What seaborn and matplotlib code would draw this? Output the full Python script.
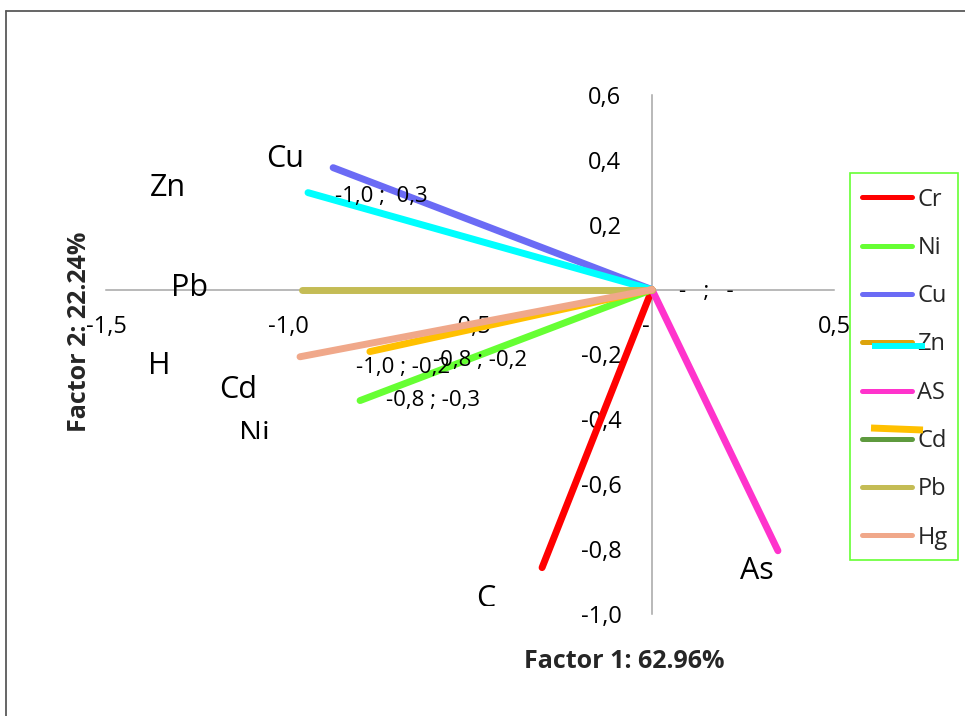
import matplotlib
matplotlib.use("Agg")
import matplotlib.pyplot as plt
from matplotlib.lines import Line2D
from matplotlib.patches import Rectangle
import seaborn as sns
import pandas as pd

sns.set_style("white")
plt.rcParams["font.family"] = ["Open Sans", "DejaVu Sans"]

# ---- data ----
elements = ["Cr", "Ni", "Cu", "Zn", "AS", "Cd", "Pb", "Hg"]
factor1 = [-0.302, -0.802, -0.876, -0.945, 0.346, -0.775, -0.962, -0.967]
factor2 = [-0.857, -0.342, 0.376, 0.299, -0.805, -0.191, 0.000, -0.207]
line_colors = ["#FF0000", "#66FF33", "#6B6BF5", "#00FFFF", "#FF33CC", "#FFC000", "#C4BC55", "#F0A88A"]
legend_colors = ["#FF0000", "#66FF33", "#6B6BF5", "#DCA30C", "#FF33CC", "#5E9A3E", "#C4BC55", "#F0A88A"]

xticks = [-1.5, -1.0, -0.5, 0.0, 0.5]
xticklabels = ["-1,5", "-1,0", "-0,5", "-  ", "0,5"]
yticks = [-1.0, -0.8, -0.6, -0.4, -0.2, 0.0, 0.2, 0.4, 0.6]
yticklabels = ["-1,0", "-0,8", "-0,6", "-0,4", "-0,2", "-    ", "0,2", "0,4", "0,6"]

name_labels = ["Cu", "Zn", "Pb", "H", "Cd", "Ni", "C", "As"]
data_labels = ["-1,0 ;  0,3", "-0,8 ; -0,2", "-1,0 ; -0,2", "-0,8 ; -0,3", "-   ;   -"]

# long-form table: each vector from origin to loading
rows = []
for e, x, y in zip(elements, factor1, factor2):
    rows.append({"elem": e, "F1": 0.0, "F2": 0.0})
    rows.append({"elem": e, "F1": x, "F2": y})
df = pd.DataFrame(rows)

W, H = 965, 716
fig = plt.figure(figsize=(W / 100, H / 100), dpi=100)
ax = fig.add_axes([106 / W, (H - 614) / H, 728 / W, 519 / H])
ax.patch.set_visible(False)

for e, c in zip(elements, line_colors):
    sub = df[df["elem"] == e]
    sns.lineplot(data=sub, x="F1", y="F2", sort=False, estimator=None,
                 color=c, linewidth=5, solid_capstyle="round", ax=ax, legend=False)

ax.set_xlim(-1.5, 0.5)
ax.set_ylim(-1.0, 0.6)
for s in ["top", "right"]:
    ax.spines[s].set_visible(False)
ax.spines["left"].set_position(("data", 0))
ax.spines["bottom"].set_position(("data", 0))
for s in ["left", "bottom"]:
    ax.spines[s].set_color("#A6A6A6")
    ax.spines[s].set_linewidth(1.1)
    ax.spines[s].set_zorder(0.5)
ax.set_xticks(xticks)
ax.set_xticklabels(xticklabels)
ax.set_yticks(yticks)
ax.set_yticklabels(yticklabels)
ax.tick_params(axis="both", length=0, labelsize=17, colors="black")
ax.tick_params(axis="x", pad=18)
ax.tick_params(axis="y", pad=22)
ax.set_xlabel("")
ax.set_ylabel("")

def px2d(px, py):
    return (px - 652) / 364.0, (290 - py) / 324.4

# series name labels
name_px = [(285, 159), (168, 188), (190, 288), (159, 366), (238, 390), (254, 435.5), (486, 599), (757, 571)]
clip_bottom = {"Ni": 439, "C": 606}
for lab, (px, py) in zip(name_labels, name_px):
    x, y = px2d(px, py)
    t = ax.text(x, y, lab, fontsize=22, ha="center", va="center", color="black")
    if lab in clip_bottom:
        cb = clip_bottom[lab]
        clip_rect = Rectangle((0, 1 - cb / H), 1, cb / H, transform=fig.transFigure)
        t.set_clip_path(clip_rect)
        t.set_clip_on(True)

# point data labels
data_px = [(381, 197), (480, 361), (403, 368), (433, 401), (706, 292)]
for lab, (px, py) in zip(data_labels, data_px):
    x, y = px2d(px, py)
    ax.text(x, y, lab, fontsize=16, ha="center", va="center", color="black")

# axis titles
fig.text(624 / W, 1 - 662 / H, "Factor 1: 62.96%", fontsize=18, fontweight="bold",
         ha="center", va="center")
fig.text(79 / W, 1 - 332 / H, "Factor 2: 22.24%", fontsize=18, fontweight="bold",
         ha="center", va="center", rotation=90)

# legend
lfs = 17
handles = [Line2D([0], [0], color=c, lw=3.6, solid_capstyle="round") for c in legend_colors]
leg = ax.legend(handles, elements, loc="upper left",
                bbox_to_anchor=(862 / W, 1 - 187.5 / H), bbox_transform=fig.transFigure,
                fontsize=lfs, frameon=False, handlelength=2.12, handletextpad=0.23,
                labelspacing=1.03, borderpad=0, borderaxespad=0)
fig.add_artist(Rectangle((849.5 / W, 1 - 560 / H), 108.5 / W, 387 / H, fill=False,
                         edgecolor="#66FF33", lw=1.2, transform=fig.transFigure, zorder=9))

# stray overlay strokes over the legend
fig.add_artist(Line2D([872 / W, 925 / W], [1 - 346 / H, 1 - 346 / H], color="#00FFFF",
                      lw=4.3, solid_capstyle="butt", transform=fig.transFigure, zorder=10))
fig.add_artist(Line2D([871 / W, 923 / W], [1 - 428 / H, 1 - 430 / H], color="#FFC000",
                      lw=5, solid_capstyle="butt", transform=fig.transFigure, zorder=10))

# outer chart border (top and left visible)
fig.add_artist(Line2D([5.5 / W, 1.0], [1 - 10.5 / H, 1 - 10.5 / H], color="#595959",
                      lw=1.3, transform=fig.transFigure))
fig.add_artist(Line2D([5.5 / W, 5.5 / W], [0, 1 - 10.5 / H], color="#595959",
                      lw=1.3, transform=fig.transFigure))

fig.savefig("out.png", dpi=100, facecolor="white")
